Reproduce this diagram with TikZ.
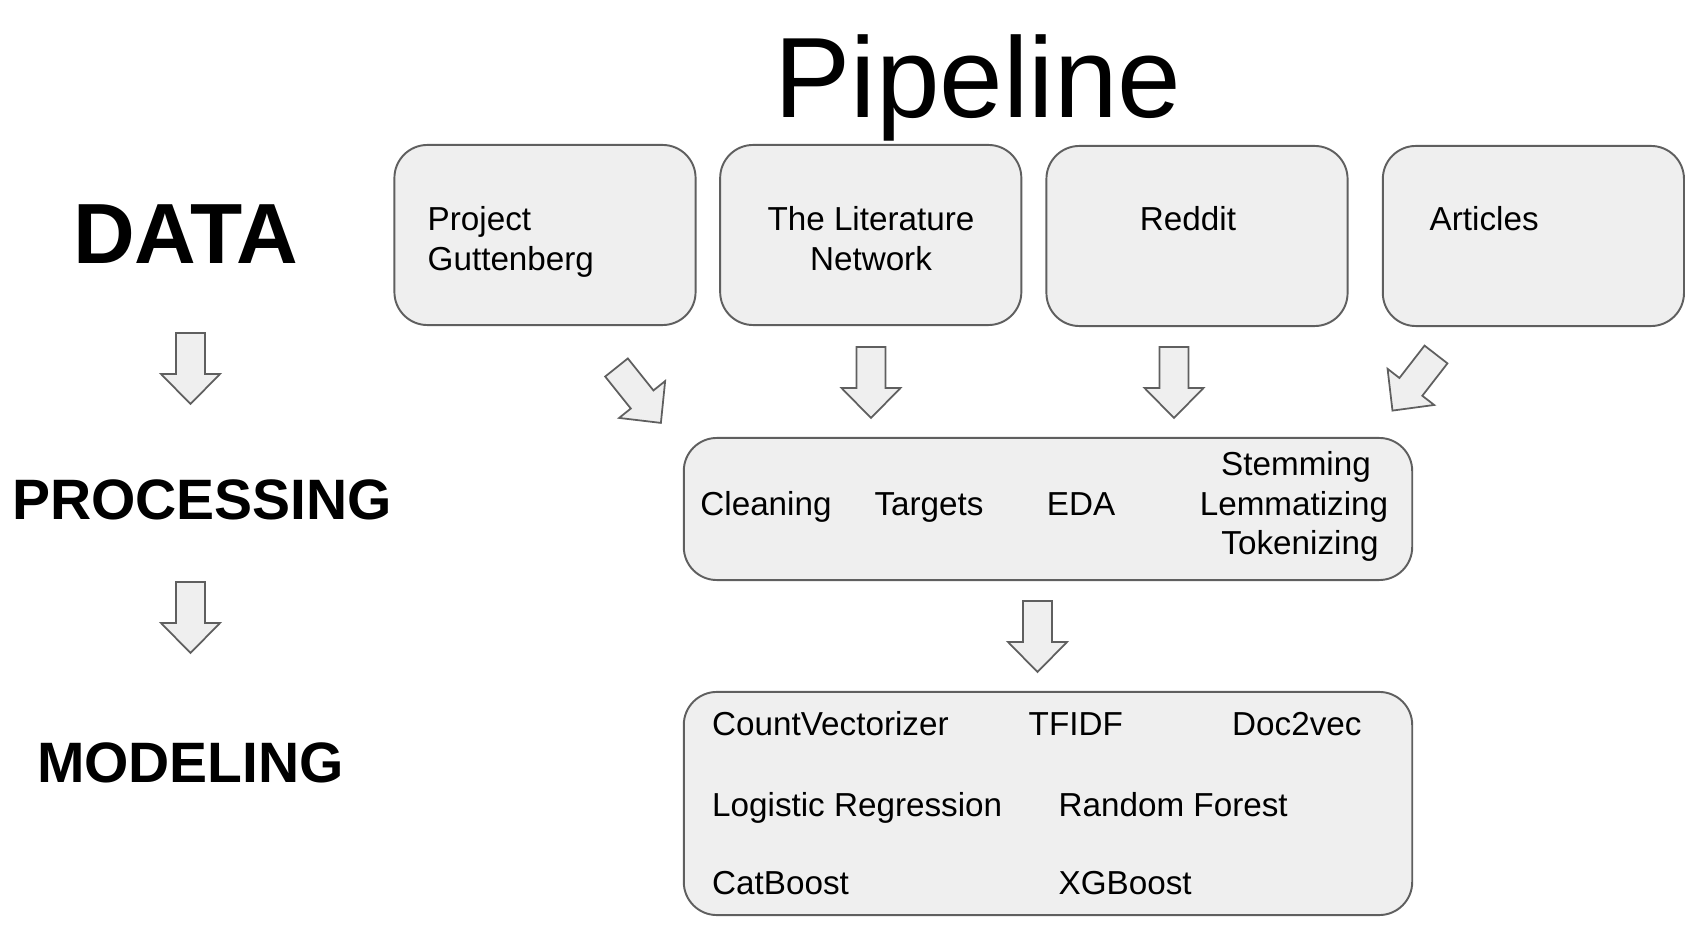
\documentclass[tikz,border=0pt]{standalone}
\usepackage{fontspec}
\setmainfont{Liberation Sans}
\definecolor{boxfill}{HTML}{EFEFEF}
\definecolor{boxline}{HTML}{5F5F5F}
\tikzset{
    srcbox/.style={draw=boxline, fill=boxfill, line width=0.55pt, rounded corners=0.33cm,
        minimum width=3.01cm, minimum height=1.80cm, inner sep=0pt},
    stagebox/.style={draw=boxline, fill=boxfill, line width=0.55pt, rounded corners=0.33cm,
        minimum width=7.28cm, inner sep=0pt},
    txt/.style={font=\fontsize{9.45}{11.4}\selectfont, inner sep=0pt},
    stagelabel/.style={font=\bfseries\fontsize{16.2}{19}\selectfont, inner sep=0pt},
    blockarrow/.pic={
        \filldraw[draw=boxline, fill=boxfill, line width=0.5pt]
            (0,14.5) -- (41,14.5) -- (41,29.5) -- (71,0) -- (41,-29.5) -- (41,-14.5) -- (0,-14.5) -- cycle;
    }
}
\begin{document}
\begin{tikzpicture}[x=0.01cm, y=-0.01cm]
    \useasboundingbox (0,0) rectangle (1708,946);

    % title and stage names
    \node[inner sep=0pt, font=\fontsize{32.5}{38}\selectfont, anchor=base] (title) at (978,118) {Pipeline};
    \node[stagelabel, font=\bfseries\fontsize{24.3}{28}\selectfont, anchor=base] (data) at (185.5,264) {DATA};
    \node[stagelabel, anchor=base] (processing) at (202,520) {PROCESSING};
    \node[stagelabel, anchor=base] (modeling) at (190.5,783) {MODELING};
    \pic[rotate=-90] at (190.5,333) {blockarrow};
    \pic[rotate=-90] at (190.5,582) {blockarrow};

    % data sources
    \node[srcbox] (project) at (545,235) {};
    \node[srcbox] (litnet) at (870.75,235) {};
    \node[srcbox] (reddit) at (1197,236) {};
    \node[srcbox] (articles) at (1533.4,236) {};
    \node[txt, anchor=base west] (projecta) at (427,231) {Project};
    \node[txt, anchor=base west] (projectb) at (427,271) {Guttenberg};
    \node[txt, anchor=base] (litneta) at (871,231) {The Literature};
    \node[txt, anchor=base] (litnetb) at (871,271) {Network};
    \node[txt, anchor=base] (reddita) at (1188,231) {Reddit};
    \node[txt, anchor=base west] (articlesa) at (1429,231) {Articles};

    % arrows into processing
    \pic[rotate=-51.3] at (616.5,367.5) {blockarrow};
    \pic[rotate=-90] at (871,347) {blockarrow};
    \pic[rotate=-90] at (1174,347) {blockarrow};
    \pic[rotate=-127.8] at (1436,354.5) {blockarrow};

    % processing
    \node[stagebox, minimum height=1.42cm] (proc) at (1048,509) {};
    \node[txt, anchor=base] (cleaning) at (766,516) {Cleaning};
    \node[txt, anchor=base] (targets) at (929,516) {Targets};
    \node[txt, anchor=base] (eda) at (1081,516) {EDA};
    \node[txt, anchor=base] (stemming) at (1296,476) {Stemming};
    \node[txt, anchor=base] (lemmatizing) at (1294,516) {Lemmatizing};
    \node[txt, anchor=base] (tokenizing) at (1300,555) {Tokenizing};

    \pic[rotate=-90] at (1037.5,601) {blockarrow};

    % modeling
    \node[stagebox, minimum height=2.23cm] (model) at (1048,803.5) {};
    \node[txt, anchor=base west] (countvec) at (711.5,736) {CountVectorizer};
    \node[txt, anchor=base west] (tfidf) at (1028,736) {TFIDF};
    \node[txt, anchor=base west] (doc2vec) at (1231.5,736) {Doc2vec};
    \node[txt, anchor=base west] (logreg) at (711.5,817) {Logistic Regression};
    \node[txt, anchor=base west] (forest) at (1058,817) {Random Forest};
    \node[txt, anchor=base west] (catboost) at (711.5,895) {CatBoost};
    \node[txt, anchor=base west] (xgboost) at (1058,895) {XGBoost};
\end{tikzpicture}
\end{document}
